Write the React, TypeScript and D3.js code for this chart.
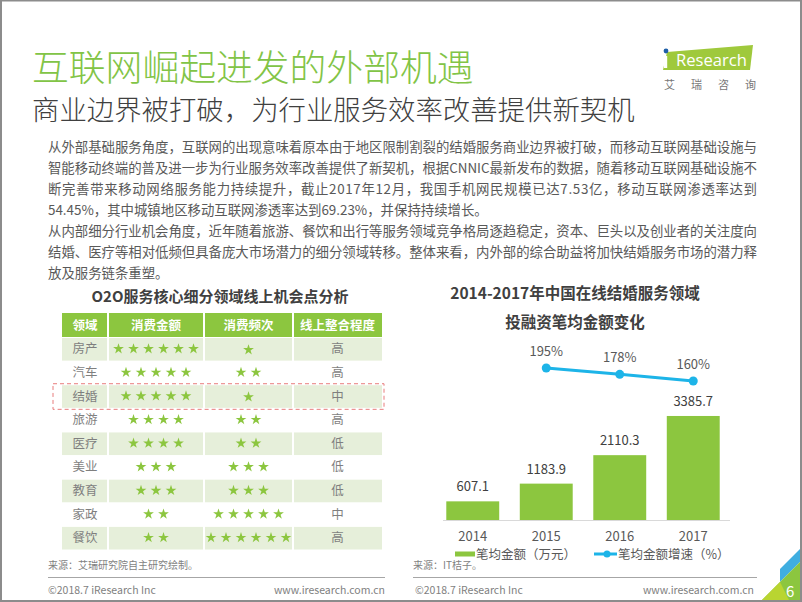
import React from 'react';
import * as d3 from 'd3';

const paragraphLines = [
  '从外部基础服务角度，互联网的出现意味着原本由于地区限制割裂的结婚服务商业边界被打破，而移动互联网基础设施与',
  '智能移动终端的普及进一步为行业服务效率改善提供了新契机，根据CNNIC最新发布的数据，随着移动互联网基础设施不',
  '断完善带来移动网络服务能力持续提升，截止2017年12月，我国手机网民规模已达7.53亿，移动互联网渗透率达到',
  '54.45%，其中城镇地区移动互联网渗透率达到69.23%，并保持持续增长。',
  '从内部细分行业机会角度，近年随着旅游、餐饮和出行等服务领域竞争格局逐趋稳定，资本、巨头以及创业者的关注度向',
  '结婚、医疗等相对低频但具备庞大市场潜力的细分领域转移。整体来看，内外部的综合助益将加快结婚服务市场的潜力释',
  '放及服务链条重塑。',
];
const justified = [true, true, true, false, true, true, false];

const tableHeaders = ['领域', '消费金额', '消费频次', '线上整合程度'];
const domains = ['房产', '汽车', '结婚', '旅游', '医疗', '美业', '教育', '家政', '餐饮'];
const amountStars = [6, 5, 5, 4, 4, 3, 3, 2, 2];
const freqStars = [1, 2, 1, 2, 2, 3, 3, 5, 6];
const integration = ['高', '高', '中', '高', '低', '低', '低', '中', '高'];
const highlightDomain = '结婚';

const years = ['2014', '2015', '2016', '2017'];
const amounts = [607.1, 1183.9, 2110.3, 3385.7];
const growthYears = ['2015', '2016', '2017'];
const growthValues = [195, 178, 160];

const GREEN = '#8CC63F';
const BLUE = '#1DB4E8';
const TEXT = '#595959';
const FONT = '"Noto Sans CJK SC", "Noto Sans", sans-serif';

export default function App() {
  // table scales
  const colEdges = [62, 108, 204, 293, 382];
  const rowY = d3.scaleBand<number>().domain(d3.range(domains.length)).range([337, 549.5]).paddingInner(0);
  const starPath = d3.symbol().type(d3.symbolStar).size(36)() as string;

  const starGroup = (n: number, cx: number, cy: number, key: string) => {
    const sp = 15;
    const start = cx - ((n - 1) * sp) / 2;
    return d3.range(n).map((i) => (
      <path key={key + i} d={starPath} transform={`translate(${start + i * sp},${cy})`} fill={GREEN} />
    ));
  };

  // chart scales
  const x = d3.scaleBand<string>().domain(years).range([436, 730]).paddingInner(0.28).paddingOuter(0.14);
  const yBar = d3.scaleLinear().domain([0, 4000]).range([520, 397.1]);
  const yLine = d3.scaleLinear().domain([0, 250]).range([440.4, 347.6]);
  const line = d3
    .line<number>()
    .x((_, i) => (x(growthYears[i]) as number) + x.bandwidth() / 2)
    .y((d) => yLine(d));

  return (
    <div style={{ position: 'fixed', left: 0, top: 0 }}>
      <svg width={802} height={602} style={{ display: 'block', fontFamily: FONT }}>
        <rect x={0} y={0} width={802} height={602} fill="#fff" />

        {/* titles */}
        <text x={32} y={81} fontSize={36.8} fill="#82C446" fontWeight={300}>互联网崛起进发的外部机遇</text>
        <text x={32} y={120} fontSize={27.4} fill="#404040" fontWeight={300}>商业边界被打破，为行业服务效率改善提供新契机</text>

        {/* logo */}
        <polygon points="667,52 753,45 750,70 663,70" fill="#9FC93C" />
        <rect x={664} y={56} width={3.2} height={12} fill="#fff" />
        <circle cx={666} cy={51} r={2.4} fill="#1F5FA8" />
        <text x={676} y={66} fontSize={17} fill="#fff" textLength={71} lengthAdjust="spacingAndGlyphs" fontFamily='"Open Sans", sans-serif'>Research</text>
        <text x={664} y={89} fontSize={11} fill="#777" letterSpacing={16}>艾瑞咨询</text>

        {/* paragraph */}
        {paragraphLines.map((t, i) => (
          <text
            key={i}
            x={48}
            y={152 + i * 21}
            fontSize={13.4}
            fill={TEXT}
            {...(justified[i] ? { textLength: 709, lengthAdjust: 'spacing' } : {})}
          >
            {t}
          </text>
        ))}

        {/* table */}
        <text x={220} y={302} textAnchor="middle" fontSize={15} fontWeight={700} fill="#404040">O2O服务核心细分领域线上机会点分析</text>
        {tableHeaders.map((h, c) => (
          <g key={h}>
            <rect x={colEdges[c] + (c ? 1 : 0)} y={313} width={colEdges[c + 1] - colEdges[c] - (c ? 1 : 0) - (c < 3 ? 1 : 0)} height={24} fill={GREEN} />
            <text x={(colEdges[c] + colEdges[c + 1]) / 2} y={329.5} textAnchor="middle" fontSize={12.5} fontWeight={700} fill="#fff">{h}</text>
          </g>
        ))}
        {domains.map((d, r) => {
          const y0 = rowY(r) as number;
          const h = rowY.bandwidth();
          const cy = y0 + h / 2;
          return (
            <g key={d}>
              {r % 2 === 0 &&
                [0, 1, 2, 3].map((c) => (
                  <rect key={c} x={colEdges[c] + (c ? 1 : 0)} y={y0 + 1} width={colEdges[c + 1] - colEdges[c] - (c ? 1 : 0) - (c < 3 ? 1 : 0)} height={h - 1} fill="#E6EFDA" />
                ))}
              <text x={(colEdges[0] + colEdges[1]) / 2} y={cy + 4.5} textAnchor="middle" fontSize={12.5} fill="#7F7F7F">{d}</text>
              {starGroup(amountStars[r], (colEdges[1] + colEdges[2]) / 2, cy, 'a' + r)}
              {starGroup(freqStars[r], (colEdges[2] + colEdges[3]) / 2, cy + (freqStars[r] === 1 ? 1 : 0), 'f' + r)}
              <text x={(colEdges[3] + colEdges[4]) / 2} y={cy + 4.5} textAnchor="middle" fontSize={12.5} fill="#7F7F7F">{integration[r]}</text>
              {d === highlightDomain && (
                <rect x={53} y={y0 - 0.5} width={331} height={h + 2} fill="none" stroke="#E87C7C" strokeWidth={1} strokeDasharray="4,3" />
              )}
            </g>
          );
        })}
        <text x={48} y={569} fontSize={10} fill="#7F7F7F">来源：艾瑞研究院自主研究绘制。</text>

        {/* right chart */}
        <text x={575} y={299} textAnchor="middle" fontSize={15.5} fontWeight={700} fill="#404040">2014-2017年中国在线结婚服务领域</text>
        <text x={575} y={328} textAnchor="middle" fontSize={15.5} fontWeight={700} fill="#404040">投融资笔均金额变化</text>

        {years.map((yr, i) => (
          <g key={yr}>
            <rect x={x(yr)} y={yBar(amounts[i])} width={x.bandwidth()} height={yBar(0) - yBar(amounts[i])} fill={GREEN} />
            <text x={(x(yr) as number) + x.bandwidth() / 2} y={yBar(amounts[i]) - 10} textAnchor="middle" fontSize={13} fill="#404040">{amounts[i].toFixed(1)}</text>
            <text x={(x(yr) as number) + x.bandwidth() / 2} y={540.5} textAnchor="middle" fontSize={13} fill={TEXT}>{yr}</text>
          </g>
        ))}
        <line x1={443} x2={730} y1={yBar(0) + 0.5} y2={yBar(0) + 0.5} stroke="#D9D9D9" strokeWidth={1} />

        <path d={line(growthValues) as string} fill="none" stroke={BLUE} strokeWidth={3} />
        {growthValues.map((v, i) => {
          const cx = (x(growthYears[i]) as number) + x.bandwidth() / 2;
          return (
            <g key={growthYears[i]}>
              <circle cx={cx} cy={yLine(v)} r={4.5} fill={BLUE} />
              <text x={cx} y={yLine(v) - 12} textAnchor="middle" fontSize={13} fill={TEXT}>{v}%</text>
            </g>
          );
        })}

        {/* legend */}
        <rect x={455} y={551.5} width={20} height={5} fill={GREEN} />
        <text x={476} y={558.5} fontSize={12.5} fill={TEXT}>笔均金额（万元）</text>
        <line x1={594} x2={617} y1={554} y2={554} stroke={BLUE} strokeWidth={3} />
        <circle cx={607} cy={554} r={3.5} fill={BLUE} />
        <text x={618} y={558.5} fontSize={12.5} fill={TEXT}>笔均金额增速（%）</text>
        <text x={413} y={569} fontSize={10} fill="#7F7F7F">来源：IT桔子。</text>

        {/* footers */}
        <line x1={48} x2={385} y1={577.5} y2={577.5} stroke="#A6A6A6" strokeWidth={1} />
        <text x={48} y={594} fontSize={10.5} fill="#7F7F7F">©2018.7 iResearch Inc</text>
        <text x={385} y={594} textAnchor="end" fontSize={10.5} fill="#7F7F7F">www.iresearch.com.cn</text>
        <line x1={413} x2={757} y1={577.5} y2={577.5} stroke="#A6A6A6" strokeWidth={1} />
        <text x={415} y={594} fontSize={10.5} fill="#7F7F7F">©2018.7 iResearch Inc</text>
        <text x={754} y={594} textAnchor="end" fontSize={10.5} fill="#7F7F7F">www.iresearch.com.cn</text>

        {/* corner decoration */}
        <polygon points="780,582 802,560 802,547 780,569" fill="#3FAEE0" />
        <polygon points="760,602 802,560 802,602" fill="#8CC63F" />
        <polygon points="760,602 790,602 780,582" fill="#B9D531" />
        <text x={786} y={597} fontSize={15} fill="#fff">6</text>

        {/* frame */}
        <rect x={1} y={0.5} width={800} height={600.5} fill="none" stroke="#8C8C8C" strokeWidth={2} />
      </svg>
    </div>
  );
}
